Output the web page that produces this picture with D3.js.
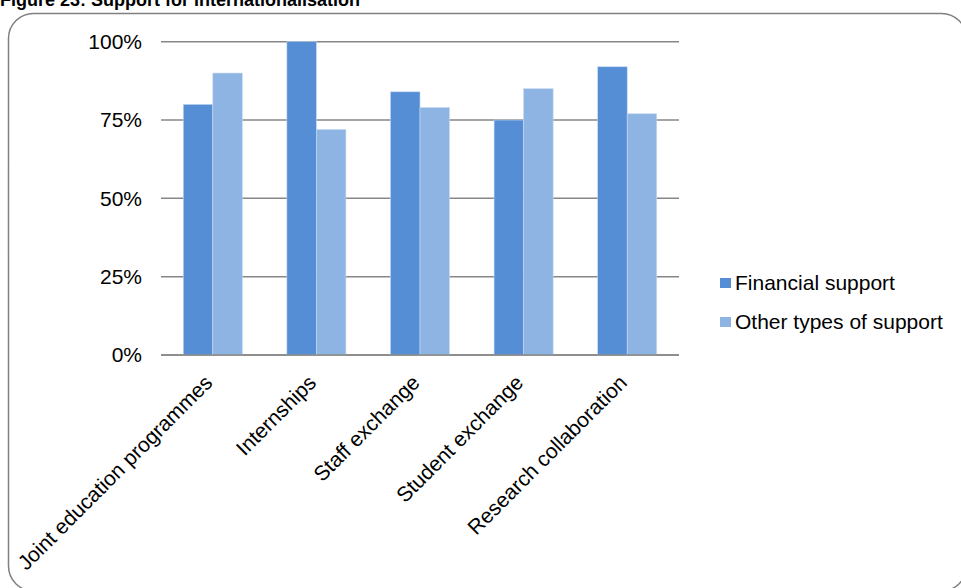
<!DOCTYPE html>
<html>
<head>
<meta charset="utf-8">
<script src="https://cdn.jsdelivr.net/npm/d3@7"></script>
<style>
  body { margin: 0; background: #fff; }
  svg { display: block; font-family: "Liberation Sans", Arial, sans-serif; }
</style>
</head>
<body>
<div id="chart"></div>
<script>
const categories = ["Joint education programmes", "Internships", "Staff exchange", "Student exchange", "Research collaboration"];
const seriesNames = ["Financial support", "Other types of support"];
const financial = [80, 100, 84, 75, 92];
const other = [90, 72, 79, 85, 77];
const yTicks = [0, 25, 50, 75, 100];
const colors = ["#558ed5", "#8eb4e3"];

const width = 961, height = 588;

const svg = d3.select("#chart").append("svg")
    .attr("width", width)
    .attr("height", height);

// frame with rounded corners (runs past the right and bottom edge)
svg.append("rect")
    .attr("x", 8.5).attr("y", 13.5)
    .attr("width", 958).attr("height", 577.5)
    .attr("rx", 25).attr("ry", 25)
    .attr("fill", "none")
    .attr("stroke", "#808080")
    .attr("stroke-width", 1.5);

svg.append("text")
    .attr("x", 0).attr("y", 6)
    .attr("font-size", 18)
    .attr("font-weight", "bold")
    .attr("fill", "#000")
    .text("Figure 23:  Support for internationalisation");

const x = d3.scaleBand()
    .domain(categories)
    .range([161, 679])
    .paddingInner(0.43)
    .paddingOuter(0.215);

const xs = d3.scaleBand()
    .domain(seriesNames)
    .range([0, x.bandwidth()]);

const y = d3.scaleLinear()
    .domain([0, 100])
    .range([355, 41.7]);

// gridlines
svg.append("g")
    .selectAll("line")
    .data(yTicks)
    .enter()
    .append("line")
    .attr("x1", 161).attr("x2", 679)
    .attr("y1", d => y(d)).attr("y2", d => y(d))
    .attr("stroke", "#878787")
    .attr("stroke-width", 1.5);

// y labels
svg.append("g")
    .selectAll("text")
    .data(yTicks)
    .enter()
    .append("text")
    .attr("x", 142)
    .attr("y", d => y(d))
    .attr("dy", "0.35em")
    .attr("text-anchor", "end")
    .attr("font-size", 21)
    .text(d => d + "%");

const rows = categories.map((c, i) => ({ cat: c, values: [financial[i], other[i]] }));

const groups = svg.append("g")
    .selectAll("g")
    .data(rows)
    .enter()
    .append("g")
    .attr("transform", d => `translate(${x(d.cat)},0)`);

groups.selectAll("rect")
    .data(d => d.values.map((v, j) => ({ name: seriesNames[j], value: v, j })))
    .enter()
    .append("rect")
    .attr("x", d => xs(d.name))
    .attr("y", d => y(d.value))
    .attr("width", xs.bandwidth())
    .attr("height", d => y(0) - y(d.value))
    .attr("fill", d => colors[d.j])
    .attr("stroke", "#c6d9f1")
    .attr("stroke-width", 0.6);

// redraw baseline on top
svg.append("line")
    .attr("x1", 161).attr("x2", 679)
    .attr("y1", y(0)).attr("y2", y(0))
    .attr("stroke", "#878787")
    .attr("stroke-width", 1.5);

// x labels
svg.append("g")
    .selectAll("text")
    .data(categories)
    .enter()
    .append("text")
    .attr("transform", d => `translate(${x(d) + x.bandwidth() / 2 + 1},${384}) rotate(-45)`)
    .attr("text-anchor", "end")
    .attr("font-size", 21)
    .text(d => d);

// legend
const legend = svg.append("g")
    .selectAll("g")
    .data(seriesNames)
    .enter()
    .append("g")
    .attr("transform", (d, i) => `translate(720,${283 + i * 39})`);

legend.append("rect")
    .attr("x", 0).attr("y", -5)
    .attr("width", 11).attr("height", 10)
    .attr("fill", (d, i) => colors[i]);

legend.append("text")
    .attr("x", 15)
    .attr("dy", "0.35em")
    .attr("font-size", 21)
    .text(d => d);
</script>
</body>
</html>
